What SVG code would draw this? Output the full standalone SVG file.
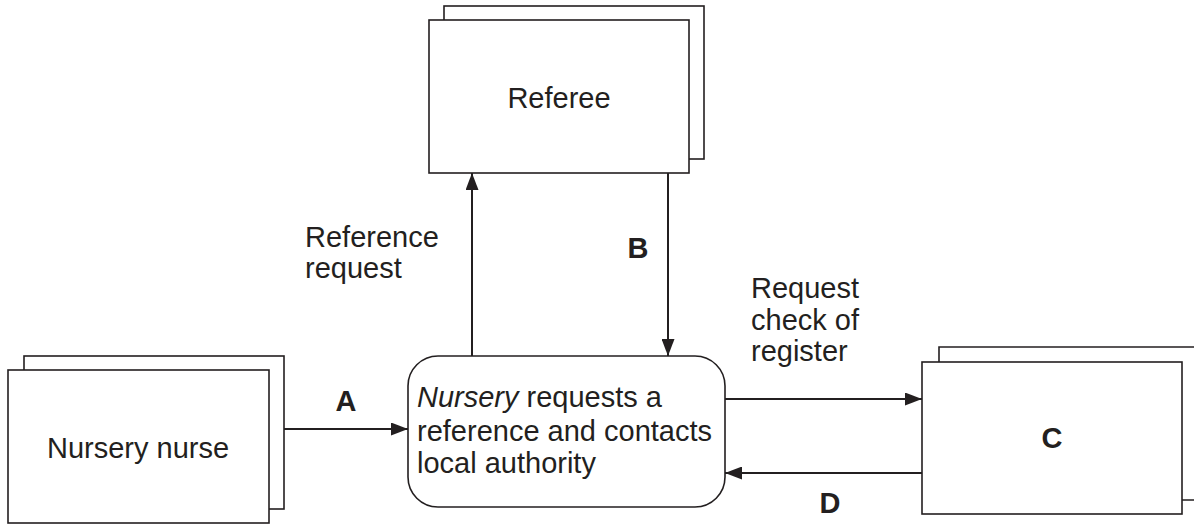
<svg xmlns="http://www.w3.org/2000/svg" width="1194" height="524" viewBox="0 0 1194 524">
<style>
.box{fill:#fff;stroke:#231f20;stroke-width:1.6}
.conn{stroke:#231f20;stroke-width:2;fill:none}
.t{font-family:"Liberation Sans",Arial,sans-serif;font-size:29px;fill:#231f20}
.b{font-weight:bold}
</style>
<defs>
<marker id="ah" viewBox="0 0 17 13" refX="17" refY="6.5" markerWidth="17" markerHeight="13" markerUnits="userSpaceOnUse" orient="auto">
<path d="M0,0 L17,6.5 L0,13 Z" fill="#231f20"/>
</marker>
</defs>
<rect width="1194" height="524" fill="#fff"/>
<g id="referee">
<rect class="box" x="444" y="6" width="260" height="153"/>
<rect class="box" x="429" y="20" width="260" height="153"/>
<text class="t" x="559" y="108" text-anchor="middle">Referee</text>
</g>
<g id="nursery-nurse">
<rect class="box" x="24" y="356" width="260" height="153"/>
<rect class="box" x="8" y="370" width="261" height="153"/>
<text class="t" x="138" y="458" text-anchor="middle">Nursery nurse</text>
</g>
<g id="nursery">
<rect class="box" x="408" y="356" width="317" height="151" rx="30" ry="30"/>
<text class="t" x="417" y="407"><tspan font-style="italic">Nursery</tspan> requests a</text>
<text class="t" x="417" y="441">reference and contacts</text>
<text class="t" x="417" y="473">local authority</text>
</g>
<g id="c">
<path class="box" d="M939,362 V347 H1194 M1182,500 H1194" fill="none"/>
<rect class="box" x="922" y="362" width="260" height="152"/>
<text class="t b" x="1052" y="448" text-anchor="middle">C</text>
</g>
<g id="connectors">
<line class="conn" x1="284" y1="429" x2="408" y2="429" marker-end="url(#ah)"/>
<line class="conn" x1="472" y1="356" x2="472" y2="173" marker-end="url(#ah)"/>
<line class="conn" x1="668" y1="173" x2="668" y2="356" marker-end="url(#ah)"/>
<line class="conn" x1="725" y1="399" x2="922" y2="399" marker-end="url(#ah)"/>
<line class="conn" x1="922" y1="473" x2="725" y2="473" marker-end="url(#ah)"/>
</g>
<g id="labels">
<text class="t b" x="346" y="411" text-anchor="middle">A</text>
<text class="t b" x="638" y="258" text-anchor="middle">B</text>
<text class="t b" x="830" y="513" text-anchor="middle">D</text>
<text class="t" x="305" y="247">Reference</text>
<text class="t" x="305" y="278">request</text>
<text class="t" x="751" y="298">Request</text>
<text class="t" x="751" y="330">check of</text>
<text class="t" x="751" y="361">register</text>
</g>
</svg>
